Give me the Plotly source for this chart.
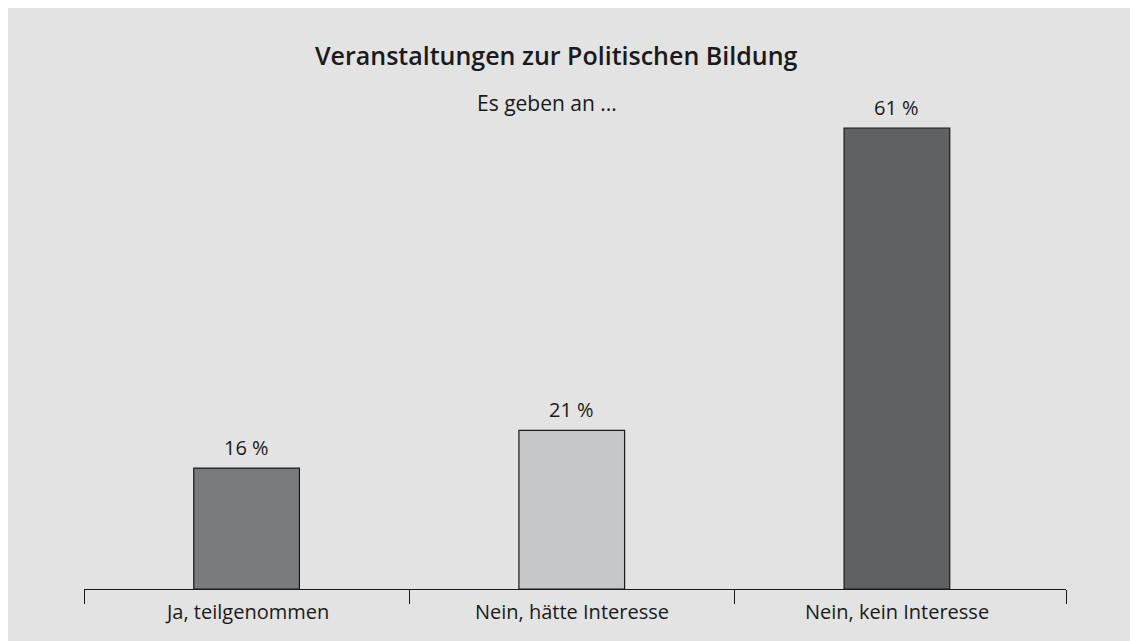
import plotly.graph_objects as go

categories = ["Ja, teilgenommen", "Nein, hätte Interesse", "Nein, kein Interesse"]
values = [16, 21, 61]
labels = ["16 %", "21 %", "61 %"]
colors = ["#7a7b7c", "#c6c7c8", "#606163"]

title_text = "Veranstaltungen zur Politischen Bildung"
subtitle_text = "Es geben an ..."

W, H = 1130, 641
XMIN, XMAX = -0.5, 2.52
ml, mr, mt, mb = 84, 64, 60, 52
pw, ph = W - ml - mr, H - mt - mb

FONT = "Open Sans"
INK = "#1a1a1a"
BG = "#e2e3e2"

xpos = list(range(len(categories)))
boundaries = [i - 0.5 for i in xpos] + [XMAX]

fig = go.Figure()
fig.add_trace(go.Bar(
    x=xpos, y=values,
    marker=dict(color=colors, line=dict(color=INK, width=1.2)),
    width=0.325, hoverinfo="skip",
))

def px_x(p):
    return (p - ml) / pw

def px_y(p):
    return (H - mb - p) / ph

ann = [
    dict(text=title_text, xref="paper", yref="paper", x=px_x(556), y=px_y(55),
         showarrow=False, xanchor="center", yanchor="middle",
         font=dict(size=25, family=FONT, weight=600, color=INK)),
    dict(text=subtitle_text, xref="paper", yref="paper", x=px_x(547), y=px_y(103),
         showarrow=False, xanchor="center", yanchor="middle",
         font=dict(size=21, family=FONT, color=INK)),
]
for x, v, t in zip(xpos, values, labels):
    ann.append(dict(text=t, x=x, y=v, xref="x", yref="y", showarrow=False,
                    xanchor="center", yanchor="bottom", yshift=5,
                    font=dict(size=20, family=FONT, color=INK)))
for x, c in zip(xpos, categories):
    ann.append(dict(text=c, x=x, y=0, xref="x", yref="y", showarrow=False,
                    xanchor="center", yanchor="middle", yshift=-22,
                    font=dict(size=20, family=FONT, color=INK)))

fig.update_layout(
    width=W, height=H,
    margin=dict(l=ml, r=mr, t=mt, b=mb),
    paper_bgcolor="white", plot_bgcolor="rgba(0,0,0,0)",
    showlegend=False,
    font=dict(family=FONT, color=INK),
    annotations=ann,
    shapes=[dict(type="rect", xref="paper", yref="paper", layer="below",
                 x0=px_x(8), x1=px_x(W + 2), y0=px_y(H + 2), y1=px_y(8),
                 fillcolor=BG, line=dict(width=0))],
)
fig.update_xaxes(
    range=[XMIN, XMAX], tickvals=boundaries, ticktext=[""] * len(boundaries),
    ticks="outside", ticklen=14, tickwidth=1.2, tickcolor=INK,
    showline=True, linecolor=INK, linewidth=1.2, showgrid=False, zeroline=False,
)
fig.update_yaxes(range=[0, 70], visible=False, showgrid=False, zeroline=False)

fig.write_html(
    "out.html",
    config={"displayModeBar": False},
    post_script="document.body.style.margin='0';document.body.style.overflow='hidden';",
)
